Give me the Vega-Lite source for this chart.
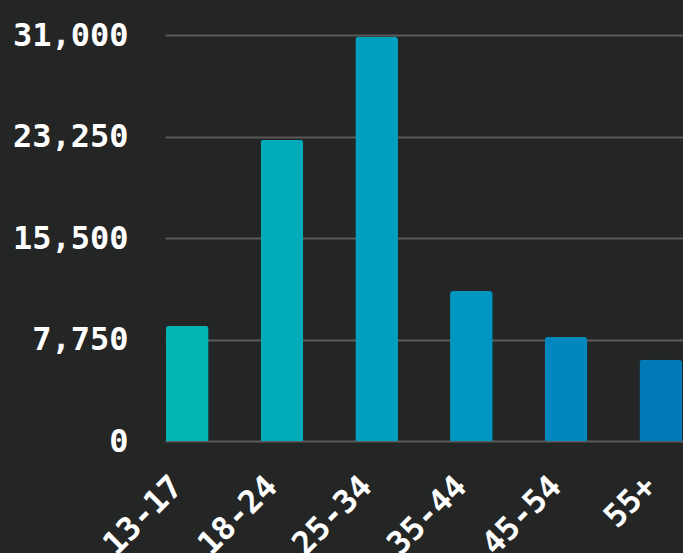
{
  "$schema": "https://vega.github.io/schema/vega-lite/v6.json",
  "width": 518,
  "height": 406,
  "autosize": {"type": "none"},
  "padding": {"left": 165, "top": 35, "right": 0, "bottom": 112},
  "background": "#242525",
  "data": {
    "values": [
      {"age": "13-17", "users": 8800},
      {"age": "18-24", "users": 23000},
      {"age": "25-34", "users": 30850},
      {"age": "35-44", "users": 11450},
      {"age": "45-54", "users": 7950},
      {"age": "55+", "users": 6200}
    ]
  },
  "config": {
    "view": {"stroke": null},
    "axis": {"labelFont": "DejaVu Sans Mono", "labelFontWeight": "bold", "labelColor": "#ffffff", "domain": false, "ticks": false}
  },
  "mark": {"type": "bar", "cornerRadiusTopLeft": 3, "cornerRadiusTopRight": 3},
  "encoding": {
    "x": {
      "field": "age",
      "type": "nominal",
      "sort": null,
      "scale": {"paddingInner": 0.55, "paddingOuter": 0.01},
      "axis": {"title": null, "labelAngle": -45, "labelAlign": "right", "labelBaseline": "middle", "labelFontSize": 32, "labelPadding": 40, "labelOffset": -10, "labelBound": false, "grid": false}
    },
    "y": {
      "field": "users",
      "type": "quantitative",
      "scale": {"domain": [0, 31000], "nice": false},
      "axis": {"title": null, "values": [0, 7750, 15500, 23250, 31000], "format": ",d", "labelFontSize": 32, "labelPadding": 37, "labelBaseline": "middle", "grid": true, "gridColor": "#5a5a5a", "gridWidth": 2, "gridOpacity": 1}
    },
    "color": {
      "field": "age",
      "type": "nominal",
      "sort": null,
      "scale": {"domain": ["13-17", "18-24", "25-34", "35-44", "45-54", "55+"], "range": ["#02b4b4", "#00abba", "#00a1bf", "#0096c2", "#0088be", "#0079b7"]},
      "legend": null
    }
  }
}
